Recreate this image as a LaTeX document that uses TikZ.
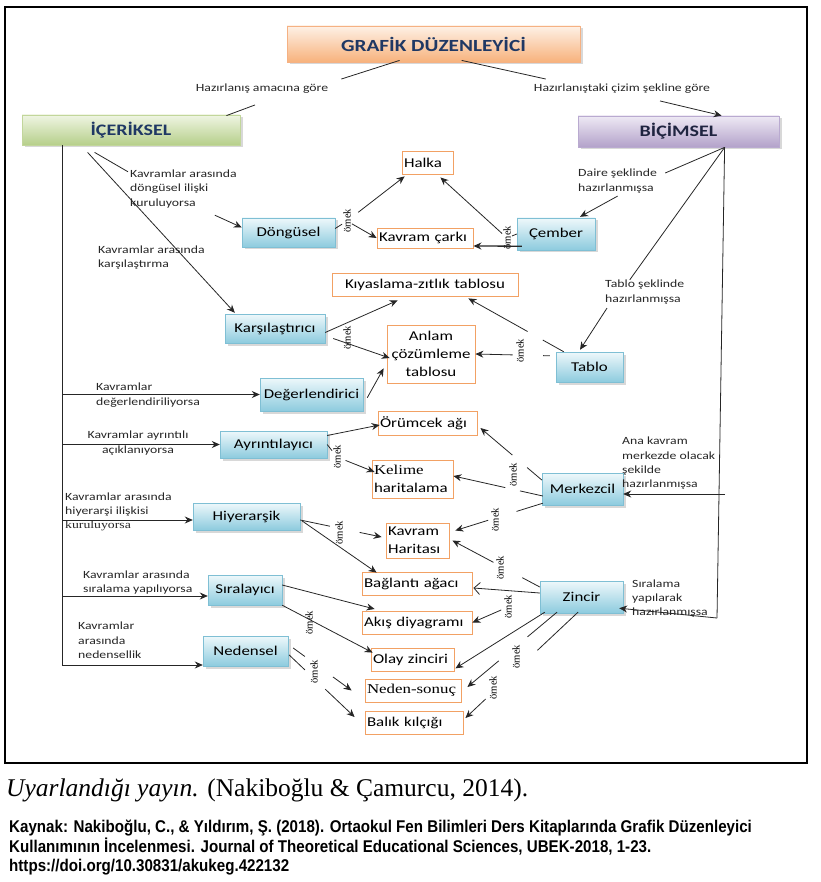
\documentclass[tikz,border=0pt]{standalone}
\usepackage{fontspec}
\usetikzlibrary{arrows.meta,calc,shadows}
\newfontfamily\dfont[FakeStretch=1.25]{Carlito}
\newfontfamily\serw[FakeStretch=1.25]{Liberation Serif}
\newfontfamily\sfont{Liberation Serif}
\newfontfamily\kfont[FakeStretch=0.89]{Liberation Sans}
\definecolor{bbdraw}{HTML}{7FBFD4}
\definecolor{bbtop}{HTML}{EEF8FB}
\definecolor{bbbot}{HTML}{8DCBDE}
\definecolor{obdraw}{HTML}{F2A164}
\definecolor{ttop}{HTML}{FEF1E6}
\definecolor{tbot}{HTML}{F7B27C}
\definecolor{tdraw}{HTML}{F5B183}
\definecolor{gtop}{HTML}{EFF5E3}
\definecolor{gbot}{HTML}{B6CF8A}
\definecolor{gdraw}{HTML}{C2D69B}
\definecolor{ptop}{HTML}{EEE9F4}
\definecolor{pbot}{HTML}{B3A2CA}
\definecolor{pdraw}{HTML}{B9AAD0}
\definecolor{navy}{HTML}{1F3864}
\definecolor{darkp}{HTML}{1F2440}
\begin{document}
\begin{tikzpicture}[x=1pt,y=-1pt,
  lab/.style={font=\dfont\fontsize{11}{14.3}\selectfont, inner sep=0pt, align=left, text=black!85},
  shad/.style={drop shadow={shadow xshift=2.5pt,shadow yshift=-2.5pt,fill=black!30}},
  bbox/.style={shad, draw=bbdraw, top color=bbtop, bottom color=bbbot, font=\dfont\fontsize{13.5}{16}\selectfont, inner sep=0pt},
  obox/.style={draw=obdraw, fill=white, line width=0.8pt, font=\dfont\fontsize{13.5}{18}\selectfont, inner xsep=2pt, inner ysep=0pt, align=left},
  topbox/.style={shad, inner sep=0pt, line width=0.8pt},
  ornek/.style={font=\sfont\fontsize{10.5}{10.5}\selectfont, rotate=90, inner sep=1pt},
  ln/.style={draw=black!85, line width=0.8pt},
  arr/.style={ln, -{Stealth[length=8pt,width=7pt]}},
]
\useasboundingbox (0,0) rectangle (820,882);
\node[draw, line width=2pt, minimum width=802pt, minimum height=756pt, inner sep=0pt] (frame) at (406,385) {};

% top boxes
\node[topbox, draw=tdraw, top color=ttop, bottom color=tbot, minimum width=293pt, minimum height=36pt, font=\dfont\bfseries\fontsize{17}{20}\selectfont, text=navy] (title) at (433.5,44) {GRAFİK DÜZENLEYİCİ};
\node[topbox, draw=gdraw, top color=gtop, bottom color=gbot, minimum width=218pt, minimum height=30pt, font=\dfont\bfseries\fontsize{16}{19}\selectfont, text=navy] (icerik) at (131,130) {İÇERİKSEL};
\node[topbox, draw=pdraw, top color=ptop, bottom color=pbot, minimum width=201pt, minimum height=31pt, font=\dfont\bfseries\fontsize{16}{19}\selectfont, text=darkp] (bicim) at (678.5,131.5) {BİÇİMSEL};

% blue boxes
\node[bbox, minimum width=93pt, minimum height=29pt] (dongusel) at (288.5,232.5) {Döngüsel};
\node[bbox, minimum width=100pt, minimum height=29pt] (karsi) at (275,328.5) {Karşılaştırıcı};
\node[bbox, minimum width=103pt, minimum height=33pt] (degerl) at (311.5,394.5) {Değerlendirici};
\node[bbox, minimum width=107pt, minimum height=27pt] (ayrinti) at (273.5,444.5) {Ayrıntılayıcı};
\node[bbox, minimum width=107pt, minimum height=27pt] (hiyer) at (246.5,516.5) {Hiyerarşik};
\node[bbox, minimum width=74pt, minimum height=30pt] (sirala) at (245,590) {Sıralayıcı};
\node[bbox, minimum width=85pt, minimum height=30pt] (nedensel) at (245.5,651) {Nedensel};
\node[bbox, minimum width=78pt, minimum height=32pt] (cember) at (556,234) {Çember};
\node[bbox, minimum width=67pt, minimum height=30pt] (tablo) at (589.5,367) {Tablo};
\node[bbox, minimum width=81pt, minimum height=32pt] (merkez) at (582.5,489) {Merkezcil};
\node[bbox, minimum width=83pt, minimum height=32pt] (zincir) at (581.5,597) {Zincir};

% orange boxes
\node[obox, text width=47pt, minimum height=23pt] (halka) at (427.5,162.5) {Halka};
\node[obox, text width=92pt, minimum height=20pt] (carki) at (425,238) {Kavram çarkı};
\node[obox, text width=182pt, minimum height=23pt, align=center] (kiyas) at (425,284.5) {Kıyaslama-zıtlık tablosu};
\node[obox, text width=84pt, minimum height=58pt, align=center] (anlam) at (431,354) {Anlam\\çözümleme\\tablosu};
\node[obox, text width=95pt, minimum height=24pt] (orumcek) at (427.5,423) {Örümcek ağı};
\node[obox, text width=77pt, minimum height=38pt] (kelime) at (412.5,479) {{\serw Kelime}\\haritalama};
\node[obox, text width=59pt, minimum height=35pt] (kharita) at (417.5,540.5) {Kavram\\Haritası};
\node[obox, text width=106pt, minimum height=23pt] (baglanti) at (417,583.5) {Bağlantı ağacı};
\node[obox, text width=106pt, minimum height=23pt] (akis) at (417,622.5) {Akış diyagramı};
\node[obox, text width=79pt, minimum height=23pt] (olay) at (412.5,659.5) {Olay zinciri};
\node[obox, text width=92pt, minimum height=23pt] (neden) at (413,690.5) {{\serw Neden-sonuç}};
\node[obox, text width=94pt, minimum height=23pt] (balik) at (414,722.5) {Balık kılçığı};

% labels
\node[lab, align=center] (labamac) at (262,89) {Hazırlanış amacına göre};
\node[lab, align=center] (labcizim) at (622,89) {Hazırlanıştaki çizim şekline göre};
\node[lab, anchor=west] (labdongu) at (130,189) {Kavramlar arasında\\döngüsel ilişki\\kuruluyorsa};
\node[lab, anchor=west] (labkarsi) at (98,257.5) {Kavramlar arasında\\karşılaştırma};
\node[lab, anchor=west] (labdeger) at (96,395) {Kavramlar\\ değerlendiriliyorsa};
\node[lab, align=center] (labayr) at (138,443) {Kavramlar ayrıntılı\\açıklanıyorsa};
\node[lab, anchor=west] (labhiy) at (65,512) {Kavramlar arasında\\hiyerarşi ilişkisi\\{\serw kuruluyorsa}};
\node[lab, anchor=west] (labsir) at (83,582.5) {Kavramlar arasında\\sıralama yapılıyorsa};
\node[lab, anchor=west] (labned) at (78,640.5) {Kavramlar\\arasında\\nedensellik};
\node[lab, anchor=west] (labdaire) at (578,181) {Daire şeklinde\\hazırlanmışsa};
\node[lab, anchor=west] (labtablo) at (605,292) {Tablo şeklinde\\hazırlanmışsa};
\node[lab, anchor=west] (labmerk) at (622,463.5) {Ana kavram\\merkezde olacak\\şekilde\\hazırlanmışsa};
\node[lab, anchor=west] (labzinc) at (632,598.5) {Sıralama\\yapılarak\\hazırlanmışsa};

% top connectors
\draw[ln] ($(title.south west)+(113,-2)$) -- ($(labamac.north east)+(13,-5)$);
\draw[ln] ($(labamac.south)+(-7,11)$) -- ($(icerik.north east)+(-14,1)$);
\draw[ln] ($(title.south west)+(175,-2)$) -- ($(labcizim.north west)+(12,-5)$);
\draw[arr] ($(labcizim.south)+(38,7)$) -- ($(bicim.north west)+(144,0)$);

% left trunk
\coordinate (lt) at (62,665);
\draw[ln] (icerik.south -| lt) -- (lt);
\draw[ln] ($(icerik.south west)+(73,7)$) -- ($(labdongu.north west)+(-2,2)$);
\draw[arr] ($(labdongu.south east)+(-22,7)$) -- ($(dongusel.west)+(0,-5)$);
\draw[arr] ($(icerik.south west)+(66,7)$) -- ($(karsi.north west)+(10,-1)$);
\draw[arr] (degerl.west -| lt) -- (degerl.west);
\draw[arr] (ayrinti.west -| lt) -- (ayrinti.west);
\draw[arr] ($(hiyer.west -| lt)+(0,3.5)$) -- ($(hiyer.west)+(0,3.5)$);
\draw[arr] ($(sirala.west -| lt)+(0,6)$) -- ($(sirala.west)+(0,6)$);
\draw[arr] (lt) -- (nedensel.west |- lt);

% right trunk
\coordinate (rt) at ($(bicim.south west)+(147,0)$);
\coordinate (rb) at (717,618);
\coordinate (rm) at (725,494);
\draw[ln] (rt) -- (rb);
\draw[ln] (rt) -- ($(labdaire.east)+(8,-8)$);
\draw[arr] ($(labdaire.south)+(0,3)$) -- ($(cember.north)+(24,-1)$);
\draw[ln] (rt) -- ($(labtablo.north)+(-15,0)$);
\draw[arr] ($(labtablo.south west)+(2,4)$) -- ($(tablo.north)+(-9.5,-2)$);
\draw[arr] (rm) -- ($(merkez.east)+(0,5)$);
\draw[arr] (rb) -- ($(zincir.south east)+(-4,-5)$);

% Döngüsel
\node[ornek] (o1) at (347,221) {örnek};
\draw[ln] ($(dongusel.east)+(0,-4)$) -- (o1);
\draw[arr, shorten <=8pt] (o1) -- ($(halka.south west)+(3,2)$);
\draw[arr] (o1) -- (carki.west);

% Çember
\node[ornek] (o2) at (507,238) {örnek};
\draw[ln] (o2) -- (cember.west);
\draw[arr] (o2) -- ($(halka.south east)+(-13,3)$);
\draw[arr, line width=1.3pt] ($(cember.south west)+(5,-4)$) -- ($(carki.east)+(0,8)$);

% Karşılaştırıcı, Değerlendirici
\node[ornek] (o3) at (347,338) {örnek};
\draw[arr] ($(karsi.east)+(0,4)$) -- ($(kiyas.south west)+(66,4)$);
\draw[arr] ($(karsi.east)+(8,10)$) -- ($(anlam.west)+(3,4)$);
\draw[arr] ($(degerl.north east)+(4,20)$) -- ($(anlam.south west)+(-3,-15)$);

% Tablo
\node[ornek] (o4) at (520,351) {örnek};
\coordinate (ta1) at ($(tablo.north west)+(8,0)$);
\coordinate (tb1) at ($(kiyas.south east)+(-50,2)$);
\draw[ln] (ta1) -- ($(ta1)!0.22!(tb1)$);
\draw[arr] ($(ta1)!0.38!(tb1)$) -- (tb1);
\coordinate (ta2) at ($(tablo.north west)+(-6,4)$);
\draw[ln] (ta2) -- ($(ta2)!0.09!(anlam.east)$);
\draw[arr] ($(ta2)!0.5!(anlam.east)$) -- (anlam.east);

% Ayrıntılayıcı
\node[ornek] (o5) at (337,457) {örnek};
\draw[arr] ($(ayrinti.east)+(0,-9)$) -- ($(orumcek.west)+(2,2)$);
\draw[ln] (ayrinti.east) -- (o5);
\draw[arr, shorten <=4pt] (o5) -- ($(kelime.west)+(3,-7)$);

% Merkezcil
\node[ornek] (o6) at (513,475) {örnek};
\node[ornek] (o7) at (495,520) {örnek};
\coordinate (ma1) at ($(merkez.west)+(0,-9)$);
\coordinate (mb1) at ($(orumcek.east)+(3,5)$);
\draw[ln] (ma1) -- ($(ma1)!0.24!(mb1)$);
\draw[arr] ($(ma1)!0.48!(mb1)$) -- (mb1);
\coordinate (ma2) at ($(merkez.west)+(1,7)$);
\coordinate (mb2) at ($(kelime.east)+(0,-3)$);
\draw[ln] (ma2) -- ($(ma2)!0.255!(mb2)$);
\draw[arr] ($(ma2)!0.42!(mb2)$) -- (mb2);
\coordinate (ma3) at ($(merkez.south west)+(1,-2)$);
\coordinate (mb3) at ($(kharita.east)+(6,-10)$);
\draw[ln] (ma3) -- ($(ma3)!0.3!(mb3)$);
\draw[arr] ($(ma3)!0.625!(mb3)$) -- (mb3);

% Hiyerarşik
\node[ornek] (o8) at (339,533) {örnek};
\coordinate (ha) at ($(hiyer.east)+(0,3.5)$);
\coordinate (hb) at ($(kharita.west)+(-4,-3.5)$);
\draw[ln] (ha) -- ($(ha)!0.366!(hb)$);
\draw[arr] ($(ha)!0.73!(hb)$) -- (hb);
\draw[arr] ($(hiyer.east)+(2,4.5)$) -- ($(baglanti.north west)+(15,1)$);

% Zincir
\node[ornek] (o9) at (500,568) {örnek};
\node[ornek] (o10) at (508,607) {örnek};
\node[ornek] (o11) at (516,657) {örnek};
\node[ornek] (o12) at (493,688) {örnek};
\coordinate (za1) at ($(zincir.west)+(0,-10)$);
\coordinate (zb1) at ($(kharita.east)+(3,0)$);
\draw[ln] (za1) -- ($(za1)!0.2!(zb1)$);
\draw[arr] ($(za1)!0.53!(zb1)$) -- (zb1);
\draw[ln, -{Straight Barb[length=6pt,width=12pt]}] ($(zincir.west)+(0,-4)$) -- ($(baglanti.east)+(1,4.5)$);
\draw[arr, shorten <=2pt] (o10) -- (akis.east);
\draw[arr] ($(zincir.south west)+(5,-1)$) -- ($(olay.south east)+(1,-3)$);
\coordinate (za4) at ($(zincir.south)+(-24.5,-1)$);
\coordinate (zb4) at ($(neden.east)+(6,-3.5)$);
\draw[ln] (za4) -- ($(za4)!0.33!(zb4)$);
\draw[arr] ($(za4)!0.65!(zb4)$) -- (zb4);
\coordinate (za5) at ($(zincir.south)+(-3.5,-1)$);
\coordinate (zb5) at ($(balik.east)+(2,-4.5)$);
\draw[ln] (za5) -- ($(za5)!0.36!(zb5)$);
\draw[arr] ($(za5)!0.82!(zb5)$) -- (zb5);

% Sıralayıcı
\node[ornek] (o13) at (309,623) {örnek};
\draw[arr] ($(sirala.east)+(0,-5)$) -- ($(akis.west)+(13,-13.5)$);
\draw[arr] (sirala.south east) -- ($(olay.north west)+(2,5)$);

% Nedensel
\node[ornek] (o14) at (314,672) {örnek};
\coordinate (na1) at ($(nedensel.east)+(5,-3)$);
\coordinate (nb1) at ($(neden.west)+(-13,0)$);
\draw[ln] (na1) -- ($(na1)!0.2!(nb1)$);
\draw[arr] ($(na1)!0.68!(nb1)$) -- (nb1);
\coordinate (na2) at ($(nedensel.east)+(1,4)$);
\coordinate (nb2) at ($(balik.west)+(-10,-5.5)$);
\draw[ln] (na2) -- ($(na2)!0.24!(nb2)$);
\draw[arr] ($(na2)!0.55!(nb2)$) -- (nb2);

% caption
\node[anchor=west, inner sep=0pt, font=\sfont\fontsize{25.5}{28}\selectfont] (cap) at (6,790) {\textit{Uyarlandığı yayın.} (Nakiboğlu \& Çamurcu, 2014).};
\node[anchor=north west, inner sep=0pt, align=left, font=\kfont\bfseries\fontsize{17}{19.5}\selectfont] (kay) at (9,820) {Kaynak: Nakiboğlu, C., \& Yıldırım, Ş. (2018). Ortaokul Fen Bilimleri Ders Kitaplarında Grafik Düzenleyici\\Kullanımının İncelenmesi. Journal of Theoretical Educational Sciences, UBEK-2018, 1-23.\\https://doi.org/10.30831/akukeg.422132};
\end{tikzpicture}
\end{document}
